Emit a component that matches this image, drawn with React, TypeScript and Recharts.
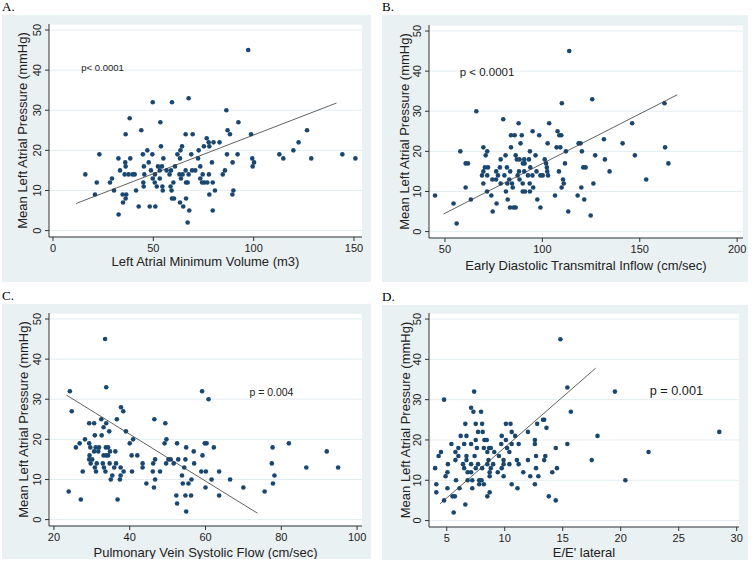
import { ScatterChart, Scatter, XAxis, YAxis, CartesianGrid } from "recharts";

type Pt = [number, number];

// mean left atrial pressure ticks shared by every panel
const lapTicks = [0, 10, 20, 30, 40, 50];

// A. left atrial minimum volume vs LAP
const pointsA: Pt[] = [
  [97.3, 45], [67.6, 33], [49.7, 32], [59.3, 32], [86.4, 30], [38.2, 28], [53.5, 27], [92.4, 27],
  [44, 25], [87, 25], [126.6, 25], [36.2, 24], [66.1, 24], [69.6, 24], [88.2, 24], [98.7, 24],
  [76.6, 23], [77.6, 22], [80, 22], [83, 22], [122.4, 22], [53.8, 21], [64.3, 21], [75.2, 21],
  [77.9, 21], [47, 20], [63.5, 20], [72.6, 20], [119.8, 20], [23.1, 19], [44.8, 19], [49.5, 19],
  [62, 19], [68.9, 19], [86.7, 19], [92, 19], [112.8, 19], [144.2, 19], [32.6, 18], [38.5, 18],
  [55, 18], [63.3, 18], [72.3, 18], [99.3, 18], [114.8, 18], [128.7, 18], [150.7, 18], [36, 17],
  [47.7, 17], [79.2, 17], [89.5, 17], [100.2, 17], [36.2, 16], [45.3, 16], [52.3, 16], [54.3, 16],
  [60.8, 16], [73.4, 16], [99.5, 16], [33.4, 15], [48.8, 15], [53.2, 15], [56.6, 15], [58.8, 15],
  [66.1, 15], [69.3, 15], [70.9, 15], [85.7, 15], [16.1, 14], [35.7, 14], [37.7, 14], [39.7, 14],
  [40.7, 14], [45.5, 14], [50.8, 14], [58.1, 14], [63, 14], [64.6, 14], [67.6, 14], [74.6, 14],
  [77.7, 14], [84.6, 14], [29.4, 13], [49.7, 13], [53.2, 13], [63.8, 13], [73.4, 13], [21.8, 12],
  [28.4, 12], [45, 12], [50.7, 12], [60, 12], [66.3, 12], [67.1, 12], [74.3, 12], [75.4, 12],
  [76.9, 12], [79.6, 12], [45.2, 11], [51.7, 11], [54.5, 11], [58.6, 11], [30.4, 10], [41.4, 10],
  [54.7, 10], [59.1, 10], [80.7, 10], [89.9, 10], [20.9, 9], [34.7, 9], [36.5, 9], [77.9, 9],
  [89.4, 9], [36.2, 8], [59.3, 8], [60.3, 8], [66.3, 8], [34.9, 7], [63.3, 7], [42.7, 6],
  [48.2, 6], [51, 6], [64.9, 6], [67.9, 5], [79.6, 5], [32.7, 4], [67.1, 2],
];
const fitA: Pt[] = [[11.5, 6.75], [141.3, 31.8]];

// B. early diastolic transmitral inflow vs LAP
const pointsB: Pt[] = [
  [113.8, 45], [125.6, 33], [110, 32], [162.7, 32], [66.1, 30], [79.9, 28], [87.8, 27], [103.5, 27],
  [146.1, 27], [95, 25], [107.8, 25], [83.9, 24], [85.8, 24], [89.4, 24], [98.4, 24], [108.7, 24],
  [109.7, 24], [131.6, 23], [88.8, 22], [102.7, 22], [118.6, 22], [119.6, 22], [141.2, 22], [69.7, 21],
  [83.9, 21], [107.3, 21], [109.2, 21], [163, 21], [57.9, 20], [71.7, 20], [93.6, 20], [112.1, 20],
  [120.3, 20], [70.9, 19], [81.1, 19], [86.3, 19], [96.5, 19], [127.1, 19], [147.5, 19], [78.6, 18],
  [86.9, 18], [88.3, 18], [90.7, 18], [93.1, 18], [101.2, 18], [132.1, 18], [60.6, 17], [61.8, 17],
  [90, 17], [90.9, 17], [101.9, 17], [111.6, 17], [164.7, 17], [70.5, 16], [72.1, 16], [78.2, 16],
  [81.8, 16], [93.8, 16], [102.3, 16], [121, 16], [122.2, 16], [69.7, 15], [76.3, 15], [83.5, 15],
  [88, 15], [90.7, 15], [97, 15], [102.5, 15], [108.5, 15], [134.5, 15], [69, 14], [71.7, 14],
  [77.2, 14], [80.5, 14], [87.3, 14], [92.6, 14], [94.9, 14], [99, 14], [100.2, 14], [102.9, 14],
  [74.3, 13], [76.2, 13], [83, 13], [88.3, 13], [110.6, 13], [153.3, 13], [69.7, 12], [78.6, 12],
  [82, 12], [84.4, 12], [89.9, 12], [93.5, 12], [111, 12], [126.2, 12], [60.6, 11], [84.8, 11],
  [95.3, 11], [109.9, 11], [120, 11], [71.6, 10], [81.3, 10], [89.9, 10], [91.1, 10], [93.6, 10],
  [44.9, 9], [73.8, 9], [106.5, 9], [118.1, 9], [63.3, 8], [82.2, 8], [97.4, 8], [121.5, 8],
  [54.4, 7], [76.5, 7], [83.4, 6], [85.2, 6], [86.3, 6], [99, 6], [74.5, 5], [113.3, 5],
  [124.8, 4], [56, 2],
];
const fitB: Pt[] = [[49.3, 4.4], [169.2, 34.1]];

// C. pulmonary vein systolic flow vs LAP
const pointsC: Pt[] = [
  [33.5, 45], [33.8, 33], [24.2, 32], [59.1, 32], [60.8, 30], [37.7, 28], [24.7, 27], [38.3, 27],
  [32.5, 25], [36.6, 25], [46.5, 25], [29.3, 24], [30.6, 24], [33.8, 24], [49.4, 24], [33.1, 23],
  [34.6, 22], [39, 22], [30.8, 21], [32.6, 21], [28.2, 20], [40.9, 20], [49.7, 20], [26.8, 19],
  [29.3, 19], [40, 19], [49.2, 19], [52.5, 19], [59.8, 19], [60.3, 19], [82, 19], [25.8, 18],
  [29.6, 18], [31, 18], [31.9, 18], [33.7, 18], [34.3, 18], [54.9, 18], [62.2, 18], [77.7, 18],
  [30.6, 17], [31.7, 17], [34.8, 17], [36.2, 17], [56.9, 17], [92, 17], [29.4, 16], [33.1, 16],
  [33.8, 16], [34.3, 16], [40.5, 16], [42, 16], [59.2, 16], [29.3, 15], [30.1, 15], [46.7, 15],
  [50.2, 15], [50.8, 15], [52.8, 15], [54.7, 15], [29.7, 14], [31.3, 14], [32.9, 14], [34.7, 14],
  [36.4, 14], [43.4, 14], [46.2, 14], [49.6, 14], [51.6, 14], [57, 14], [77.5, 14], [30.8, 13],
  [33.2, 13], [35.9, 13], [37.6, 13], [43.4, 13], [54.4, 13], [86.6, 13], [95, 13], [27.6, 12],
  [31.1, 12], [33.6, 12], [38.4, 12], [40.6, 12], [46.1, 12], [48, 12], [58.9, 12], [60.1, 12],
  [63.6, 12], [35.4, 11], [37.6, 11], [53.8, 11], [78.2, 11], [35, 10], [37.4, 10], [46.7, 10],
  [56.3, 10], [61.6, 10], [66.5, 10], [44.4, 9], [54, 9], [55.5, 9], [77.8, 9], [46.4, 8],
  [60, 8], [70, 8], [23.9, 7], [75.6, 7], [52.3, 6], [54.7, 6], [56.2, 6], [63.6, 6],
  [27.1, 5], [36.8, 5], [52.5, 4], [54.9, 2],
];
const fitC: Pt[] = [[23.35, 31.0], [73.7, 1.6]];

// D. E/E' lateral vs LAP
const pointsD: Pt[] = [
  [14.8, 45], [15.4, 33], [7.36, 32], [19.5, 32], [4.77, 30], [7.1, 28], [7.3, 27], [7.96, 27],
  [15.7, 27], [13.3, 25], [13.4, 25], [6.6, 24], [7.5, 24], [8.05, 24], [10.1, 24], [10.5, 24],
  [12.8, 24], [13.6, 23], [7.7, 22], [8.1, 22], [10.6, 22], [12, 22], [28.5, 22], [6.2, 21],
  [6.7, 21], [9.74, 21], [10.9, 21], [18, 21], [7.5, 20], [8.25, 20], [8.45, 20], [10.1, 20],
  [12.6, 20], [5.4, 19], [6.5, 19], [7.1, 19], [9.7, 19], [10.6, 19], [11.2, 19], [12.6, 19],
  [15.4, 19], [6, 18], [7.6, 18], [8.2, 18], [8.65, 18], [8.8, 18], [10.2, 18], [14.4, 18],
  [4.5, 17], [5.75, 17], [8.5, 17], [9.1, 17], [10.4, 17], [22.4, 17], [4.3, 16], [6, 16],
  [6.7, 16], [7.4, 16], [9.5, 16], [12.7, 16], [13.5, 16], [5.75, 15], [6.7, 15], [8.6, 15],
  [9.9, 15], [11.05, 15], [12, 15], [13.4, 15], [17.5, 15], [5.1, 14], [6.4, 14], [7.1, 14],
  [7.7, 14], [8.5, 14], [9, 14], [9.9, 14], [10.4, 14], [11.2, 14], [4, 13], [6.5, 13],
  [7.5, 13], [8.05, 13], [8.8, 13], [9.74, 13], [12.7, 13], [14.5, 13], [5.06, 12], [6.8, 12],
  [7.1, 12], [8.7, 12], [9.4, 12], [11.6, 12], [14.1, 12], [4.9, 11], [8.7, 11], [9.9, 11],
  [12.2, 11], [12.9, 11], [5.8, 10], [6.8, 10], [7.2, 10], [7.8, 10], [8, 10], [20.4, 10],
  [4.1, 9], [7.8, 9], [8.2, 9], [10.6, 9], [12.6, 9], [5.06, 8], [6.1, 8], [7.2, 8],
  [11.1, 8], [4.1, 7], [8.7, 7], [5.5, 6], [5.7, 6], [8.5, 6], [13.8, 6], [4.77, 5],
  [14.4, 5], [6.6, 4], [5.6, 2],
];
const fitD: Pt[] = [[4.42, 4.15], [17.84, 37.8]];

const NAVY = "#1a476f";
const PANEL_BG = "#eaf1f3";
const GRID = "#e4edf0";
const AXIS = "#333";
const Y_DOMAIN: [number, number] = [-1.6, 51.5];

const toXY = (pts: Pt[]) => pts.map(([x, y]) => ({ x, y }));

const Dot = (p: any) => <circle cx={p.cx} cy={p.cy} r={2.3} fill={NAVY} />;
const NoDot = () => <g />;

const YTick = (p: any) => {
  const tx = p.x - 2;
  return (
    <text x={tx} y={p.y} transform={`rotate(-90 ${tx} ${p.y})`} textAnchor="middle" fontSize={11} fill="#222">
      {p.payload.value}
    </text>
  );
};

type PanelProps = {
  letter: string;
  box: [number, number, number, number];
  margin: { top: number; right: number; bottom: number; left: number };
  xHeight: number;
  xDomain: [number, number];
  xTicks: number[];
  xTitle: string;
  xTitleOffset: number;
  yTitleOffset: number;
  points: Pt[];
  fit: Pt[];
  pText: string;
  pAt: Pt;
  pSize: number;
};

function Panel(props: PanelProps) {
  const [left, top, w, h] = props.box;
  const PText = (p: any) => (
    <text x={p.cx} y={p.cy} textAnchor="middle" dominantBaseline="central" fontSize={props.pSize} fill="#222">
      {props.pText}
    </text>
  );
  return (
    <>
      <div style={{ position: "absolute", left: left, top: top - 16, fontFamily: "'Liberation Serif', serif", fontSize: 13 }}>
        {props.letter}
      </div>
      <div style={{ position: "absolute", left, top, width: w, height: h, background: PANEL_BG }}>
        <ScatterChart width={w} height={h} margin={props.margin}>
          <CartesianGrid vertical={false} stroke={GRID} fill="#fff" />
          <XAxis
            type="number"
            dataKey="x"
            domain={props.xDomain}
            ticks={props.xTicks}
            allowDataOverflow
            height={props.xHeight}
            tickSize={4}
            tickMargin={3}
            stroke={AXIS}
            tick={{ fontSize: 11, fill: "#222" }}
            label={{ value: props.xTitle, position: "insideBottom", offset: props.xTitleOffset, fontSize: 13, fill: "#222" }}
          />
          <YAxis
            type="number"
            dataKey="y"
            domain={Y_DOMAIN}
            ticks={lapTicks}
            allowDataOverflow
            width={47}
            tickSize={4}
            tickMargin={2}
            stroke={AXIS}
            tick={YTick}
            label={{
              value: "Mean Left Atrial Pressure (mmHg)",
              angle: -90,
              position: "insideLeft",
              offset: props.yTitleOffset,
              fontSize: 13,
              fill: "#222",
              style: { textAnchor: "middle" },
            }}
          />
          <Scatter data={toXY(props.points)} shape={Dot} isAnimationActive={false} />
          <Scatter data={toXY(props.fit)} line={{ stroke: "#3a3a3a", strokeWidth: 0.8 }} shape={NoDot} isAnimationActive={false} />
          <Scatter data={toXY([props.pAt])} shape={PText} isAnimationActive={false} />
        </ScatterChart>
      </div>
    </>
  );
}

export default function App() {
  return (
    <div style={{ position: "absolute", left: 0, top: 0, width: 754, height: 562, background: "#fff", fontFamily: "'Liberation Sans', Arial, sans-serif" }}>
      <Panel
        letter="A."
        box={[2, 15, 369, 267]}
        margin={{ top: 9, right: 9, bottom: 0, left: 0 }}
        xHeight={45}
        xDomain={[-2, 154]}
        xTicks={[0, 50, 100, 150]}
        xTitle="Left Atrial Minimum Volume (m3)"
        xTitleOffset={16}
        yTitleOffset={20}
        points={pointsA}
        fit={fitA}
        pText="p< 0.0001"
        pAt={[24.7, 40.6]}
        pSize={9.5}
      />
      <Panel
        letter="B."
        box={[382, 15, 366, 267]}
        margin={{ top: 10, right: 5, bottom: 0, left: 0 }}
        xHeight={44}
        xDomain={[41.8, 203]}
        xTicks={[50, 100, 150, 200]}
        xTitle="Early Diastolic Transmitral Inflow (cm/sec)"
        xTitleOffset={12}
        yTitleOffset={22}
        points={pointsB}
        fit={fitB}
        pText="p < 0.0001"
        pAt={[71.6, 39.9]}
        pSize={11.5}
      />
      <Panel
        letter="C."
        box={[2, 304, 369, 255]}
        margin={{ top: 9, right: 9, bottom: 0, left: 0 }}
        xHeight={33}
        xDomain={[18.7, 101.3]}
        xTicks={[20, 40, 60, 80, 100]}
        xTitle="Pulmonary Vein Systolic Flow (cm/sec)"
        xTitleOffset={2}
        yTitleOffset={21}
        points={pointsC}
        fit={fitC}
        pText="p = 0.004"
        pAt={[77.4, 31.8]}
        pSize={10.5}
      />
      <Panel
        letter="D."
        box={[382, 305, 366, 255]}
        margin={{ top: 8, right: 9, bottom: 0, left: 0 }}
        xHeight={33}
        xDomain={[3.47, 30.2]}
        xTicks={[5, 10, 15, 20, 25, 30]}
        xTitle="E/E' lateral"
        xTitleOffset={3}
        yTitleOffset={23}
        points={pointsD}
        fit={fitD}
        pText="p = 0.001"
        pAt={[24.8, 32.1]}
        pSize={12.7}
      />
    </div>
  );
}
